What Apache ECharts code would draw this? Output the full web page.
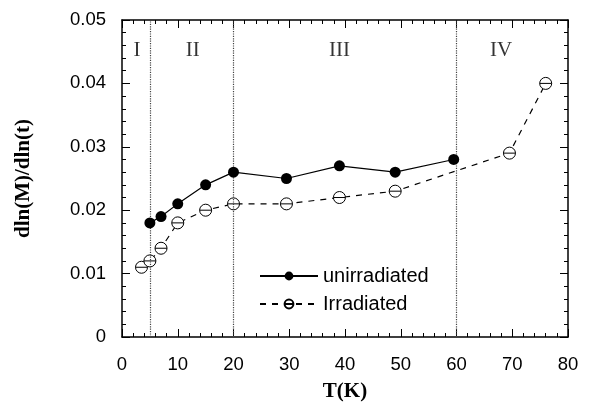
<!DOCTYPE html>
<html>
<head>
<meta charset="utf-8">
<script src="https://cdn.jsdelivr.net/npm/echarts@6/dist/echarts.min.js"></script>
<style>html,body{margin:0;padding:0;background:#fff}#c{width:590px;height:407px}</style>
</head>
<body>
<div id="c"></div>
<script>
var unirrT = [5, 7, 10, 15, 20, 29.5, 39, 49, 59.5];
var unirrV = [0.018, 0.019, 0.021, 0.024, 0.026, 0.025, 0.027, 0.026, 0.028];
var irrT = [3.5, 5, 7, 10, 15, 20, 29.5, 39, 49, 69.5, 76];
var irrV = [0.011, 0.012, 0.014, 0.018, 0.020, 0.021, 0.021, 0.022, 0.023, 0.029, 0.040];
var boundaries = [5, 20, 60];
var regionNames = ['I', 'II', 'III', 'IV'];
var regionT = [2.7, 12.7, 39, 68];
var regionV = [0.0452, 0.0452, 0.0452, 0.0452];
var xTicks = [0, 10, 20, 30, 40, 50, 60, 70, 80];
var yTicks = [0, 0.01, 0.02, 0.03, 0.04, 0.05];

function pairs(a, b) { return a.map(function (v, i) { return [v, b[i]]; }); }

var theta = 'path://M0,-10A10,10,0,1,1,0,10A10,10,0,1,1,0,-10ZM-10,0L10,0';

var chart = echarts.init(document.getElementById('c'), null, {renderer: 'canvas'});
var axisBase = {
  axisLine: {show: true, onZero: false, lineStyle: {color: '#000', width: 1.5}},
  axisTick: {show: true, inside: true, length: 8, lineStyle: {color: '#000', width: 1}},
  minorTick: {show: true, splitNumber: 5, length: 4, lineStyle: {color: '#000', width: 1}},
  splitLine: {show: false}
};
var option = {
  animation: false,
  backgroundColor: '#fff',
  grid: {left: 122, right: 22, top: 20, bottom: 69, containLabel: false},
  legend: {
    left: 254, top: 261, orient: 'vertical', itemGap: 8,
    itemWidth: 58, itemHeight: 11,
    textStyle: {fontFamily: 'Liberation Sans, Arial', fontSize: 20, color: '#000'},
    data: ['unirradiated', 'Irradiated']
  },
  xAxis: [
    Object.assign({type: 'value', min: xTicks[0], max: xTicks[xTicks.length - 1], interval: 10,
      name: 'T(K)', nameLocation: 'middle', nameGap: 44,
      nameTextStyle: {fontFamily: 'Liberation Serif, Times New Roman', fontWeight: 'bold', fontSize: 21, color: '#000'},
      axisLabel: {margin: 18, fontFamily: 'Liberation Sans, Arial', fontSize: 18.5, color: '#000'}}, axisBase),
    Object.assign({type: 'value', position: 'top', min: 0, max: 80, interval: 10,
      axisLabel: {show: false}}, axisBase)
  ],
  yAxis: [
    Object.assign({type: 'value', min: yTicks[0], max: yTicks[yTicks.length - 1], interval: 0.01,
      name: 'dln(M)/dln(t)', nameLocation: 'middle', nameGap: 88, nameRotate: 90,
      nameTextStyle: {fontFamily: 'Liberation Serif, Times New Roman', fontWeight: 'bold', fontSize: 21, color: '#000'},
      axisLabel: {margin: 16, fontFamily: 'Liberation Sans, Arial', fontSize: 18.5, color: '#000',
        formatter: function (v) { return v === 0 ? '0' : v.toFixed(2); }}}, axisBase),
    Object.assign({type: 'value', position: 'right', min: 0, max: 0.05, interval: 0.01,
      axisLabel: {show: false}}, axisBase)
  ],
  series: [
    {
      name: 'unirradiated', type: 'line', data: pairs(unirrT, unirrV),
      symbol: 'circle', symbolSize: 11, z: 5,
      itemStyle: {color: '#000'},
      lineStyle: {color: '#000', width: 1.2},
      markLine: {
        silent: true, symbol: 'none', label: {show: false},
        lineStyle: {color: '#444', type: 'dotted', width: 1.2},
        data: boundaries.map(function (b) { return {xAxis: b}; })
      }
    },
    {
      name: 'Irradiated', type: 'line', data: pairs(irrT, irrV),
      symbol: theta, symbolSize: 12, z: 4,
      itemStyle: {color: '#fff', borderColor: '#000', borderWidth: 1},
      lineStyle: {color: '#000', width: 1.2, type: [6, 6]}
    },
    {
      name: 'regions', type: 'scatter', symbolSize: 0, silent: true,
      data: pairs(regionT, regionV).map(function (p, i) { return {value: p, name: regionNames[i]}; }),
      label: {show: true, position: 'inside', formatter: '{b}',
        fontFamily: 'Liberation Serif, Times New Roman', fontSize: 21, color: '#000'}
    }
  ]
};
chart.setOption(option);
</script>
</body>
</html>
